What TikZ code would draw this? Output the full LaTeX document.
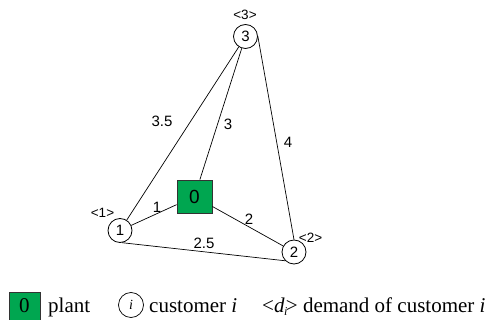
\documentclass[tikz,border=0pt]{standalone}
\usepackage{fontspec}
\setmainfont{Liberation Serif}
\newfontfamily\arialf{Liberation Sans}
\definecolor{plantgreen}{RGB}{0,166,80}
\begin{document}
\begin{tikzpicture}[x=1pt,y=-1pt,
  cust/.style={circle,draw=black,line width=0.8pt,fill=white,minimum size=24pt,inner sep=0pt,font=\arialf\fontsize{15}{15}\selectfont},
  plantbox/.style={rectangle,draw=black!80,line width=0.8pt,fill=plantgreen,minimum width=35pt,minimum height=33pt,inner sep=0pt,font=\arialf\fontsize{19}{19}\selectfont},
  elabel/.style={inner sep=0pt,font=\arialf\fontsize{15}{15}\selectfont},
  dlabel/.style={inner sep=0pt,font=\arialf\fontsize{13.5}{13.5}\selectfont},
  edge/.style={draw=black,line width=0.7pt},
  legtext/.style={inner sep=0pt,anchor=base west,font=\fontsize{21}{21}\selectfont}]
\clip (0,0) rectangle (492,320);
\fill[white] (0,0) rectangle (492,320);
% nodes
\node[plantbox] (p0) at (194.5,196.5) {0};
\node[cust] (n1) at (120,230.5) {1};
\node[cust] (n2) at (294,252) {2};
\node[cust] (n3) at (245.5,36.5) {3};
% connectors
\draw[edge] (p0) -- (n3);
\draw[edge] (p0) -- (n1);
\draw[edge] (p0) -- (n2);
\draw[edge] (n1) -- (n3);
\draw[edge] (n3.east) -- (n2.north);
\draw[edge] (n1.-80) -- (n2.south west);
% edge labels
\node[elabel] (l13) at (162,121) {3.5};
\node[elabel] (l03) at (228,124) {3};
\node[elabel] (l32) at (288,142) {4};
\node[elabel] (l01) at (157,207) {1};
\node[elabel] (l02) at (249,219) {2};
\node[elabel] (l12) at (204,243) {2.5};
% demand labels
\node[dlabel] (d3) at (245,15) {<3>};
\node[dlabel] (d1) at (102.5,212.5) {<1>};
\node[dlabel] (d2) at (310.5,237.5) {<2>};
% legend
\node[rectangle,draw=black!80,line width=0.8pt,fill=plantgreen,minimum width=31pt,minimum height=31pt,inner sep=0pt,anchor=north west] (lg0) at (9,292) {};
\node[legtext,anchor=base] (lg0t) at (24.5,312) {0};
\node[legtext] (lgplant) at (48,312) {plant};
\node[circle,draw=black,line width=0.7pt,minimum size=25pt,inner sep=0pt,font=\fontsize{14}{14}\selectfont] (lgc) at (131,305) {\textit{i}};
\node[legtext] (lgcust) at (149,312) {customer \textit{i}};
\node[legtext] (lgdem) at (262,312) {<\textit{d}\kern-0.5pt\raisebox{-3pt}{\fontsize{12}{12}\selectfont\textit{i}}\kern-1.5pt> demand of customer \textit{i}};
\end{tikzpicture}
\end{document}
